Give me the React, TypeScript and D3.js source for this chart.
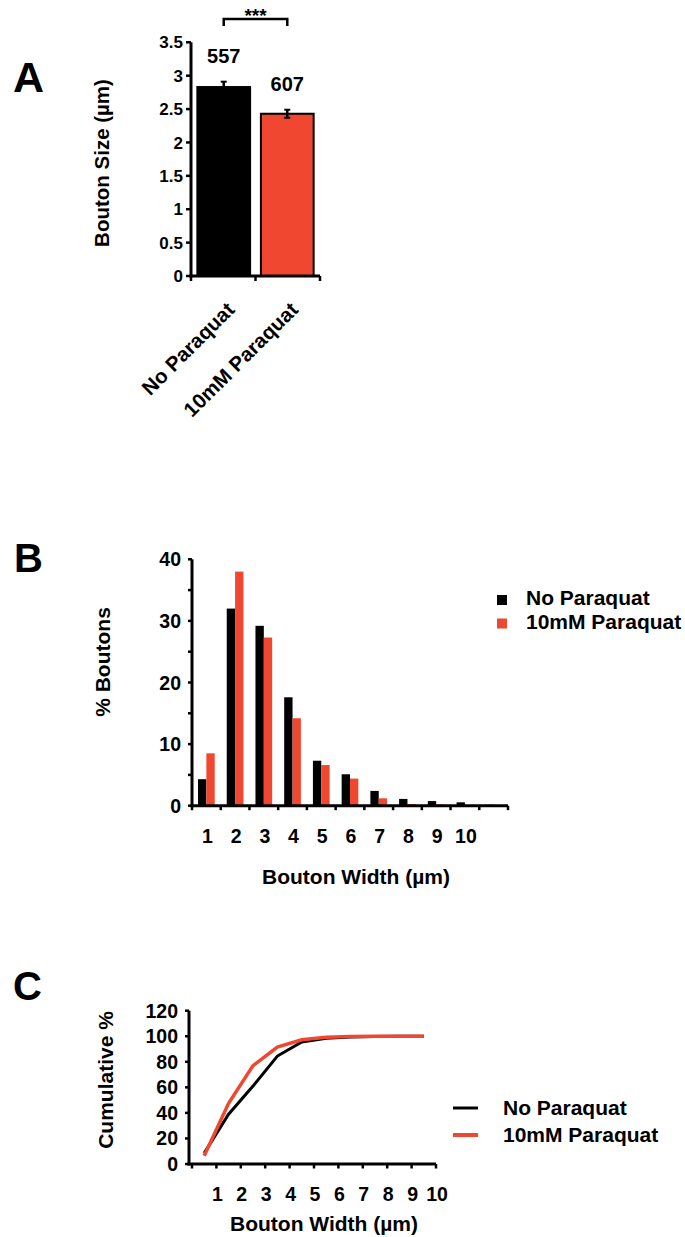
import React from 'react';
import * as d3 from 'd3';

// panel A: mean bouton size
const groups = ['No Paraquat', '10mM Paraquat'];
const meanSize = [2.83, 2.43];
const semSize = [0.08, 0.06];
const counts = ['557', '607'];
const groupColors = ['#000000', '#f04830'];
const ticksA = [0, 0.5, 1, 1.5, 2, 2.5, 3, 3.5];

// panel B: bouton width histogram
const bins = ['1', '2', '3', '4', '5', '6', '7', '8', '9', '10', '11'];
const binLabels = ['1', '2', '3', '4', '5', '6', '7', '8', '9', '10'];
const pctNo = [4.3, 32.0, 29.2, 17.6, 7.3, 5.1, 2.4, 1.1, 0.75, 0.55, 0.15];
const pctPq = [8.5, 38.0, 27.3, 14.2, 6.6, 4.4, 1.2, 0.25, 0.2, 0.1, 0.05];
const ticksB = [0, 10, 20, 30, 40];
const minorB = [5, 15, 25, 35];

// panel C: cumulative
const cumX = [0.5, 1.5, 2.5, 3.5, 4.5, 5.5, 6.5, 7.5, 8.5, 9.5];
const cumNo = [8.5, 39, 61, 84.5, 95.5, 98.5, 99.5, 99.8, 100, 100];
const cumPq = [6.5, 47.5, 77, 91.5, 97.2, 99.2, 99.8, 100, 100, 100];
const ticksC = [0, 20, 40, 60, 80, 100, 120];
const ticksCx = [1, 2, 3, 4, 5, 6, 7, 8, 9, 10];

const font = 'Arial, "Liberation Sans", sans-serif';

export default function App() {
  // ---- A scales
  const yA = d3.scaleLinear().domain([0, 3.5]).range([276, 42.3]);
  const xA = d3.scaleBand().domain(groups).range([191, 320]).paddingInner(0.17).paddingOuter(0.1);
  const bwA = xA.bandwidth();
  const midA = (xA(groups[0])! + bwA + xA(groups[1])!) / 2;

  // ---- B scales
  const yB = d3.scaleLinear().domain([0, 40]).range([805.7, 559.3]);
  const xB = d3.scaleBand().domain(bins).range([192, 508]);
  const xSub = d3.scaleBand().domain(['no', 'pq']).range([0, xB.bandwidth()]).paddingOuter(0.72);

  // ---- C scales
  const yC = d3.scaleLinear().domain([0, 120]).range([1164, 1010.7]);
  const xC = d3.scaleLinear().domain([0, 10]).range([192, 436]);
  const line = d3.line<number>().x((d, i) => xC(cumX[i])).y(d => yC(d));

  return (
    <svg width={685} height={1237} style={{ position: 'absolute', left: 0, top: 0 }}
      fontFamily={font} fontWeight="bold">
      <rect width={685} height={1237} fill="#ffffff" />

      {/* ================= A ================= */}
      <text x={13} y={92} fontSize={43}>A</text>

      {/* significance bracket */}
      <path d={`M${xA(groups[0])! + bwA / 2},26V19H${xA(groups[1])! + bwA / 2}V26`}
        fill="none" stroke="#000" strokeWidth={2.5} />
      <text x={(xA(groups[0])! + xA(groups[1])! + bwA) / 2} y={22} fontSize={19} textAnchor="middle">***</text>

      {groups.map((g, i) => (
        <g key={g}>
          <rect x={xA(g)} y={yA(meanSize[i])} width={bwA} height={yA(0) - yA(meanSize[i])}
            fill={groupColors[i]} stroke="#000" strokeWidth={2} />
          <line x1={xA(g)! + bwA / 2} x2={xA(g)! + bwA / 2}
            y1={yA(meanSize[i] - semSize[i])} y2={yA(meanSize[i] + semSize[i])} stroke="#000" strokeWidth={2.5} />
          <line x1={xA(g)! + bwA / 2 - 3} x2={xA(g)! + bwA / 2 + 3}
            y1={yA(meanSize[i] + semSize[i])} y2={yA(meanSize[i] + semSize[i])} stroke="#000" strokeWidth={2} />
          <line x1={xA(g)! + bwA / 2 - 3} x2={xA(g)! + bwA / 2 + 3}
            y1={yA(meanSize[i] - semSize[i])} y2={yA(meanSize[i] - semSize[i])} stroke="#000" strokeWidth={2} />
          <text x={xA(g)! + bwA / 2} y={yA(meanSize[i] + semSize[i]) - 19} fontSize={20} textAnchor="middle">{counts[i]}</text>
          <text transform={`translate(${xA(g)! + bwA / 2 + 12},311) rotate(-45)`} fontSize={20.5} textAnchor="end">{g}</text>
        </g>
      ))}

      {/* A axes */}
      <line x1={191} x2={191} y1={yA(3.5)} y2={yA(0) + 1.5} stroke="#000" strokeWidth={3} />
      <line x1={189.5} x2={320} y1={yA(0)} y2={yA(0)} stroke="#000" strokeWidth={3} />
      {ticksA.map(t => (
        <g key={t}>
          <line x1={186} x2={191} y1={yA(t)} y2={yA(t)} stroke="#000" strokeWidth={2.5} />
          <text x={183} y={yA(t)} dy="0.36em" fontSize={17} textAnchor="end">{String(t)}</text>
        </g>
      ))}
      {[191, midA, 320].map((x, i) => (
        <line key={i} x1={x} x2={x} y1={yA(0)} y2={yA(0) + 5} stroke="#000" strokeWidth={2.5} />
      ))}
      <text transform={`translate(109,163) rotate(-90)`} fontSize={20.5} textAnchor="middle">Bouton Size (µm)</text>

      {/* ================= B ================= */}
      <text x={14} y={572} fontSize={40}>B</text>
      {bins.map((b, i) => (
        <g key={b}>
          <rect x={xB(b)! + xSub('no')!} y={yB(pctNo[i])} width={xSub.bandwidth()}
            height={yB(0) - yB(pctNo[i])} fill={groupColors[0]} />
          <rect x={xB(b)! + xSub('pq')!} y={yB(pctPq[i])} width={xSub.bandwidth()}
            height={yB(0) - yB(pctPq[i])} fill={groupColors[1]} />
        </g>
      ))}
      <line x1={192} x2={192} y1={yB(40)} y2={yB(0) + 1.5} stroke="#000" strokeWidth={3} />
      <line x1={190.5} x2={508} y1={yB(0)} y2={yB(0)} stroke="#000" strokeWidth={3} />
      {ticksB.map(t => (
        <g key={t}>
          <line x1={188} x2={192} y1={yB(t)} y2={yB(t)} stroke="#000" strokeWidth={2.5} />
          <text x={181} y={yB(t)} dy="0.36em" fontSize={19.5} textAnchor="end">{String(t)}</text>
        </g>
      ))}
      {minorB.map(t => (
        <line key={t} x1={188} x2={192} y1={yB(t)} y2={yB(t)} stroke="#000" strokeWidth={2.5} />
      ))}
      {[...bins.map(b => xB(b)!), 508].map((x, i) => (
        <line key={i} x1={x} x2={x} y1={yB(0)} y2={yB(0) + 4.5} stroke="#000" strokeWidth={2.5} />
      ))}
      {binLabels.map(l => (
        <text key={l} x={xB(l)! + xB.bandwidth() / 2 + 1} y={843} fontSize={19.5} textAnchor="middle">{l}</text>
      ))}
      <text transform={`translate(110,662) rotate(-90)`} fontSize={21} textAnchor="middle">% Boutons</text>
      <text x={356} y={884} fontSize={21} textAnchor="middle">Bouton Width (µm)</text>
      {groups.map((g, i) => (
        <g key={g}>
          <rect x={497} y={595 + i * 23.5} width={10} height={10} fill={groupColors[i]} />
          <text x={526} y={605 + i * 24} fontSize={21}>{g}</text>
        </g>
      ))}

      {/* ================= C ================= */}
      <text x={13} y={1000} fontSize={40}>C</text>
      <path d={line(cumNo)!} fill="none" stroke={groupColors[0]} strokeWidth={3} />
      <path d={line(cumPq)!} fill="none" stroke={groupColors[1]} strokeWidth={3.5} />
      <line x1={189} x2={189} y1={yC(120)} y2={yC(0) + 1.5} stroke="#000" strokeWidth={3} />
      <line x1={187.5} x2={436} y1={yC(0)} y2={yC(0)} stroke="#000" strokeWidth={3} />
      {ticksC.map(t => (
        <g key={t}>
          <line x1={185} x2={189} y1={yC(t)} y2={yC(t)} stroke="#000" strokeWidth={2.5} />
          <text x={178} y={yC(t)} dy="0.36em" fontSize={19.5} textAnchor="end">{String(t)}</text>
        </g>
      ))}
      {[0, ...ticksCx].map(t => (
        <line key={t} x1={xC(t)} x2={xC(t)} y1={yC(0)} y2={yC(0) + 4.5} stroke="#000" strokeWidth={2.5} />
      ))}
      {ticksCx.map(t => (
        <text key={t} x={xC(t) + 1} y={1201} fontSize={19.5} textAnchor="middle">{String(t)}</text>
      ))}
      <text transform={`translate(113,1080) rotate(-90)`} fontSize={21} textAnchor="middle">Cumulative %</text>
      <text x={324} y={1231} fontSize={21} textAnchor="middle">Bouton Width (µm)</text>
      {groups.map((g, i) => (
        <g key={g}>
          <line x1={453} x2={478} y1={1108 + i * 27} y2={1108 + i * 27} stroke={groupColors[i]} strokeWidth={i ? 4 : 3} />
          <text x={503} y={1115 + i * 27} fontSize={21}>{g}</text>
        </g>
      ))}
    </svg>
  );
}
